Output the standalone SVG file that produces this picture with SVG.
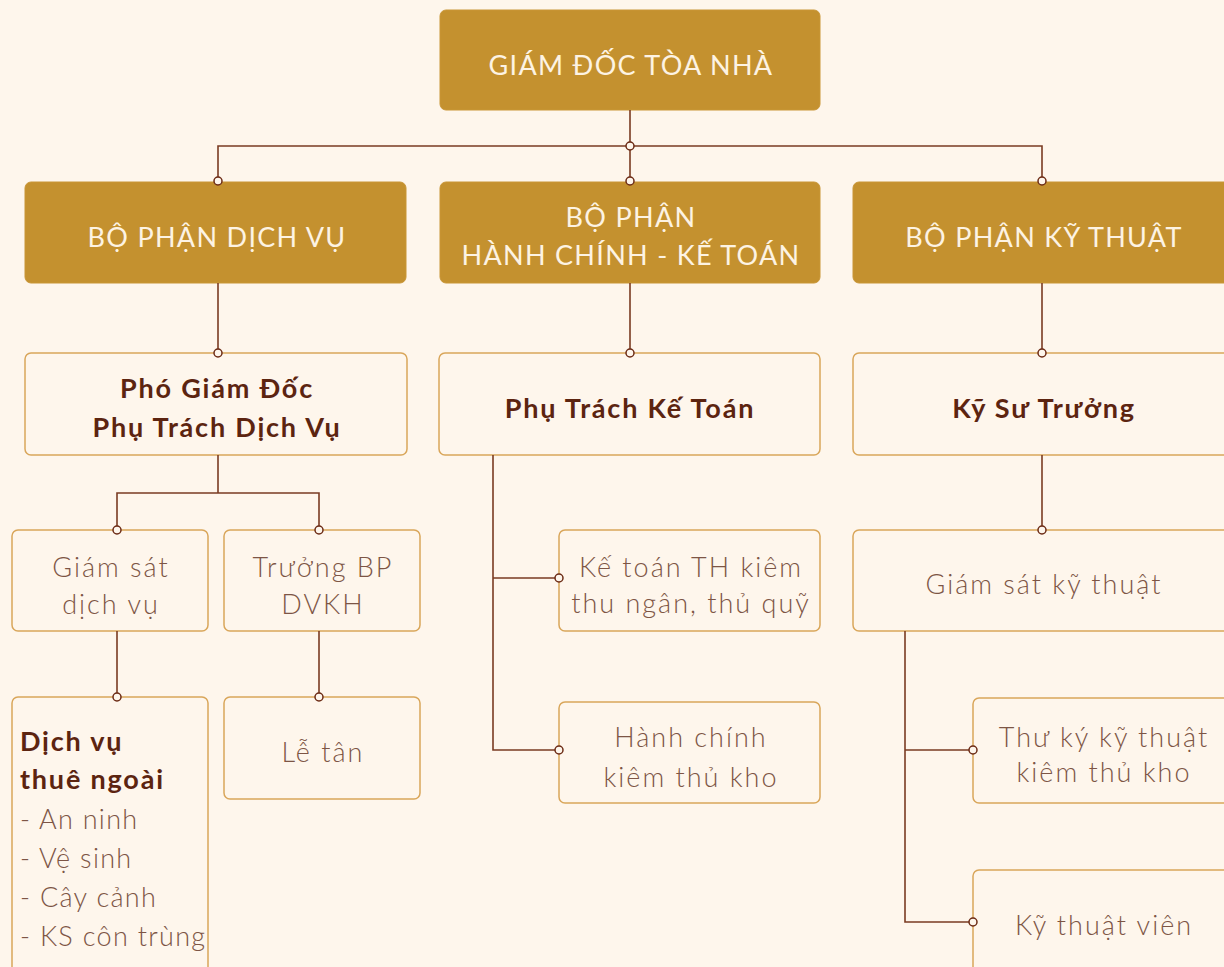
<svg xmlns="http://www.w3.org/2000/svg" width="1224" height="967" viewBox="0 0 1224 967">
<style>
.bg{fill:#FEF6EC}
.head{fill:#C4912F;stroke:#C99637;stroke-width:1}
.box{fill:#FEF6EC;stroke:#D9A65A;stroke-width:1.5}
.ht{font-family:Lato,"Noto Sans",sans-serif;font-weight:400;font-size:27px;letter-spacing:1.3px;fill:#FDF3E3;text-anchor:middle}
.bt{font-family:Lato,"Noto Sans",sans-serif;font-weight:700;font-size:27px;letter-spacing:1.8px;fill:#5C2410;text-anchor:middle}
.lt{font-family:Lato,"Noto Sans",sans-serif;font-weight:300;font-size:27px;letter-spacing:2px;fill:#7D5545;text-anchor:middle}
.st{text-anchor:start}
.lst{letter-spacing:1.3px}
.ln{fill:none;stroke:#7A3B22;stroke-width:1.6}
.dot{fill:#FEF6EC;stroke:#6B2A14;stroke-width:1.5}
</style>
<rect class="bg" x="0" y="0" width="1224" height="967"/>
<g id="giam-doc">
<rect class="head" x="440" y="10" width="380" height="100" rx="6"/>
<text class="ht" x="631" y="75">GIÁM ĐỐC TÒA NHÀ</text>
</g>
<g id="bp-dich-vu">
<rect class="head" x="25" y="182" width="381" height="101" rx="6"/>
<text class="ht" x="217" y="247">BỘ PHẬN DỊCH VỤ</text>
</g>
<g id="bp-hanh-chinh">
<rect class="head" x="440" y="182" width="380" height="101" rx="6"/>
<text class="ht" x="631" y="227">BỘ PHẬN</text>
<text class="ht" x="631" y="265">HÀNH CHÍNH - KẾ TOÁN</text>
</g>
<g id="bp-ky-thuat">
<rect class="head" x="853" y="182" width="380" height="101" rx="6"/>
<text class="ht" x="1044" y="247">BỘ PHẬN KỸ THUẬT</text>
</g>
<g id="pho-giam-doc">
<rect class="box" x="25" y="353" width="382" height="102" rx="6"/>
<text class="bt" x="217" y="398">Phó Giám Đốc</text>
<text class="bt" x="217" y="437">Phụ Trách Dịch Vụ</text>
</g>
<g id="phu-trach-ke-toan">
<rect class="box" x="439" y="353" width="381" height="102" rx="6"/>
<text class="bt" x="630" y="418">Phụ Trách Kế Toán</text>
</g>
<g id="ky-su-truong">
<rect class="box" x="853" y="353" width="380" height="102" rx="6"/>
<text class="bt" x="1044" y="418">Kỹ Sư Trưởng</text>
</g>
<g id="giam-sat-dich-vu">
<rect class="box" x="12" y="530" width="196" height="101" rx="6"/>
<text class="lt" x="111" y="577">Giám sát</text>
<text class="lt" x="111" y="614">dịch vụ</text>
</g>
<g id="truong-bp-dvkh">
<rect class="box" x="224" y="530" width="196" height="101" rx="6"/>
<text class="lt" x="323" y="577">Trưởng BP</text>
<text class="lt" x="323" y="614">DVKH</text>
</g>
<g id="dich-vu-thue-ngoai">
<rect class="box" x="12" y="697" width="196" height="290" rx="6"/>
<text class="bt st" x="20" y="751">Dịch vụ</text>
<text class="bt st" x="20" y="789">thuê ngoài</text>
<text class="lt st lst" x="20" y="829">- An ninh</text>
<text class="lt st lst" x="20" y="868">- Vệ sinh</text>
<text class="lt st lst" x="20" y="907">- Cây cảnh</text>
<text class="lt st lst" x="20" y="946">- KS côn trùng</text>
</g>
<g id="le-tan">
<rect class="box" x="224" y="697" width="196" height="102" rx="6"/>
<text class="lt" x="323" y="762">Lễ tân</text>
</g>
<g id="ke-toan-th">
<rect class="box" x="559" y="530" width="261" height="101" rx="6"/>
<text class="lt" x="691" y="577">Kế toán TH kiêm</text>
<text class="lt" x="691" y="613">thu ngân, thủ quỹ</text>
</g>
<g id="hanh-chinh">
<rect class="box" x="559" y="702" width="261" height="101" rx="6"/>
<text class="lt" x="691" y="747">Hành chính</text>
<text class="lt" x="691" y="787">kiêm thủ kho</text>
</g>
<g id="giam-sat-ky-thuat">
<rect class="box" x="853" y="530" width="380" height="101" rx="6"/>
<text class="lt" x="1044" y="594">Giám sát kỹ thuật</text>
</g>
<g id="thu-ky-ky-thuat">
<rect class="box" x="973" y="698" width="261" height="105" rx="6"/>
<text class="lt" x="1104" y="747">Thư ký kỹ thuật</text>
<text class="lt" x="1104" y="782">kiêm thủ kho</text>
</g>
<g id="ky-thuat-vien">
<rect class="box" x="973" y="870" width="261" height="120" rx="6"/>
<text class="lt" x="1104" y="935">Kỹ thuật viên</text>
</g>
<g id="connectors">
<path class="ln" d="M630 110V181M218 181V146H1042V181"/>
<path class="ln" d="M218 283V353M630 283V353M1042 283V353"/>
<path class="ln" d="M218 455V493M117 530V493H319V530"/>
<path class="ln" d="M117 631V697M319 631V697"/>
<path class="ln" d="M493 455V750H559M493 578H559"/>
<path class="ln" d="M1042 455V530"/>
<path class="ln" d="M905 631V922H973M905 750H973"/>
<circle class="dot" cx="630" cy="146" r="4"/>
<circle class="dot" cx="218" cy="181" r="4"/>
<circle class="dot" cx="630" cy="181" r="4"/>
<circle class="dot" cx="1042" cy="181" r="4"/>
<circle class="dot" cx="218" cy="353" r="4"/>
<circle class="dot" cx="630" cy="353" r="4"/>
<circle class="dot" cx="1042" cy="353" r="4"/>
<circle class="dot" cx="117" cy="530" r="4"/>
<circle class="dot" cx="319" cy="530" r="4"/>
<circle class="dot" cx="117" cy="697" r="4"/>
<circle class="dot" cx="319" cy="697" r="4"/>
<circle class="dot" cx="559" cy="578" r="4"/>
<circle class="dot" cx="559" cy="750" r="4"/>
<circle class="dot" cx="1042" cy="530" r="4"/>
<circle class="dot" cx="973" cy="750" r="4"/>
<circle class="dot" cx="973" cy="922" r="4"/>
</g>
</svg>
